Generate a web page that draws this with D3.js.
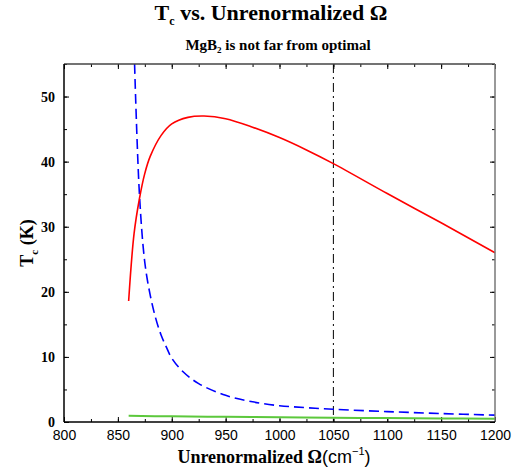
<!DOCTYPE html>
<html>
<head>
<meta charset="utf-8">
<script src="https://cdn.jsdelivr.net/npm/d3@7"></script>
<style>
  body { margin: 0; background: #fff; }
  text { fill: #000; }
</style>
</head>
<body>
<svg id="chart"></svg>
<script>
// values
var redX = [860, 865, 870, 875, 880, 890, 900, 915, 930, 950, 975, 1000, 1025, 1050, 1100, 1150, 1200];
var redY = [18.6, 28.9, 34.3, 38.2, 40.8, 44.0, 45.8, 46.8, 47.0, 46.6, 45.3, 43.7, 41.8, 39.7, 35.1, 30.6, 26.0];

var blueX = [865.5, 870, 875, 880, 885, 890, 895, 900, 910, 925, 950, 975, 1000, 1025, 1050, 1100, 1150, 1200];
var blueY = [55, 35, 24.5, 19.5, 16.0, 13.4, 11.5, 9.8, 7.8, 5.9, 4.1, 3.1, 2.5, 2.2, 1.95, 1.6, 1.3, 1.05];

var greenX = [860, 900, 950, 1000, 1050, 1100, 1150, 1200];
var greenY = [0.95, 0.87, 0.8, 0.72, 0.66, 0.6, 0.55, 0.5];

var markerX = 1050;

var xTicks = [800, 850, 900, 950, 1000, 1050, 1100, 1150, 1200];
var xMinor = d3.range(800, 1201, 25);
var yTicks = [0, 10, 20, 30, 40, 50];
var yMinor = d3.range(0, 56, 5);

var size = { width: 515, height: 469, margin: { top: 64, right: 20, bottom: 47, left: 64 } };
var margin = size.margin;
var width = size.width - margin.left - margin.right;
var height = size.height - margin.top - margin.bottom;

var x = d3.scaleLinear().domain([800, 1200]).range([0, width]);
var y = d3.scaleLinear().domain([0, 55]).range([height, 0]);

var svg = d3.select('#chart')
  .attr('width', size.width)
  .attr('height', size.height);

var chart = svg.append('g')
  .attr('transform', `translate(${ margin.left }, ${ margin.top })`);

// inward ticks on all four sides
var tickAxis = (axis, ticks, len, cls, transform) => {
  var g = chart.append('g')
    .attr('class', cls)
    .attr('transform', transform)
    .call(axis.tickValues(ticks).tickSize(-len).tickSizeOuter(0).tickFormat(''));
  g.select('.domain').remove();
  g.selectAll('line').attr('stroke', '#000').attr('stroke-width', 1);
  return g;
};

tickAxis(d3.axisBottom(x), xMinor, 3, 'x minor', `translate(0, ${ height })`);
tickAxis(d3.axisBottom(x), xTicks, 5, 'x major', `translate(0, ${ height })`);
tickAxis(d3.axisTop(x), xMinor, 3, 'x2 minor', 'translate(0, 0)');
tickAxis(d3.axisTop(x), xTicks, 5, 'x2 major', 'translate(0, 0)');
tickAxis(d3.axisLeft(y), yMinor, 3, 'y minor', 'translate(0, 0)');
tickAxis(d3.axisLeft(y), yTicks, 5, 'y major', 'translate(0, 0)');
tickAxis(d3.axisRight(y), yMinor, 3, 'y2 minor', `translate(${ width }, 0)`);
tickAxis(d3.axisRight(y), yTicks, 5, 'y2 major', `translate(${ width }, 0)`);

// tick labels
var xLabels = chart.append('g')
  .attr('transform', `translate(0, ${ height })`)
  .call(d3.axisBottom(x).tickValues(xTicks).tickFormat(d3.format('d')).tickSize(0).tickPadding(8));
xLabels.select('.domain').remove();
xLabels.selectAll('text')
  .attr('font-family', 'Liberation Sans, Arial, sans-serif')
  .attr('font-size', 14)
  .attr('dy', '0.71em');

var yLabels = chart.append('g')
  .call(d3.axisLeft(y).tickValues(yTicks).tickSize(0).tickPadding(9));
yLabels.select('.domain').remove();
yLabels.selectAll('text')
  .attr('font-family', 'Liberation Serif, Times New Roman, serif')
  .attr('font-weight', 'bold')
  .attr('font-size', 14);

// curves
var line = (xs, ys) => d3.line()
  .x(i => x(xs[i]))
  .y(i => y(ys[i]))
  .curve(d3.curveCatmullRom.alpha(0.5))(d3.range(xs.length));

var plot = chart.append('g');

plot.append('line')
  .attr('x1', x(markerX)).attr('x2', x(markerX))
  .attr('y1', 0).attr('y2', height)
  .attr('stroke', '#000')
  .attr('stroke-width', 1)
  .attr('stroke-dasharray', '9,4,2,4');

plot.append('path')
  .attr('d', line(greenX, greenY))
  .attr('fill', 'none')
  .attr('stroke', '#5cc83c')
  .attr('stroke-width', 2);

plot.append('path')
  .attr('d', line(blueX, blueY))
  .attr('fill', 'none')
  .attr('stroke', '#0000ff')
  .attr('stroke-width', 1.6)
  .attr('stroke-dasharray', '10,5');

plot.append('path')
  .attr('d', line(redX, redY))
  .attr('fill', 'none')
  .attr('stroke', '#ff0000')
  .attr('stroke-width', 1.6);

// frame
chart.append('line').attr('x1', 0).attr('x2', width).attr('y1', 0).attr('y2', 0)
  .attr('stroke', '#444').attr('stroke-width', 1.5);
chart.append('line').attr('x1', width).attr('x2', width).attr('y1', 0).attr('y2', height)
  .attr('stroke', '#777').attr('stroke-width', 1.5);
chart.append('line').attr('x1', 0).attr('x2', 0).attr('y1', 0).attr('y2', height)
  .attr('stroke', '#000').attr('stroke-width', 1.5);
chart.append('line').attr('x1', 0).attr('x2', width).attr('y1', height).attr('y2', height)
  .attr('stroke', '#000').attr('stroke-width', 1.5);

// titles
var serif = 'Liberation Serif, Times New Roman, serif';

var title = svg.append('text')
  .attr('x', 271).attr('y', 20)
  .attr('text-anchor', 'middle')
  .attr('font-family', serif).attr('font-weight', 'bold').attr('font-size', 22);
title.append('tspan').text('T');
title.append('tspan').attr('font-size', 12).attr('dy', 5).text('c');
title.append('tspan').attr('dy', -5).text(' vs. Unrenormalized Ω');

var sub = svg.append('text')
  .attr('x', 278).attr('y', 50)
  .attr('text-anchor', 'middle')
  .attr('font-family', serif).attr('font-weight', 'bold').attr('font-size', 15);
sub.append('tspan').text('MgB');
sub.append('tspan').attr('font-size', 9).attr('dy', 3).text('2');
sub.append('tspan').attr('dy', -3).text(' is not far from optimal');

var xTitle = svg.append('text')
  .attr('x', 274).attr('y', 463)
  .attr('text-anchor', 'middle')
  .attr('font-family', serif).attr('font-weight', 'bold').attr('font-size', 18);
xTitle.append('tspan').text('Unrenormalized Ω');
xTitle.append('tspan').attr('font-family', 'Liberation Sans, Arial, sans-serif').attr('font-weight', 'normal').text('(cm');
xTitle.append('tspan').attr('font-family', 'Liberation Sans, Arial, sans-serif').attr('font-weight', 'normal')
  .attr('font-size', 11).attr('dy', -8).text('−1');
xTitle.append('tspan').attr('font-family', 'Liberation Sans, Arial, sans-serif').attr('font-weight', 'normal')
  .attr('dy', 8).text(')');

var yTitle = svg.append('text')
  .attr('transform', 'translate(33, 243) rotate(-90)')
  .attr('text-anchor', 'middle')
  .attr('font-family', serif).attr('font-weight', 'bold').attr('font-size', 18);
yTitle.append('tspan').text('T');
yTitle.append('tspan').attr('font-size', 11).attr('dy', 5).text('c');
yTitle.append('tspan').attr('dy', -5).text(' (K)');
</script>
</body>
</html>
